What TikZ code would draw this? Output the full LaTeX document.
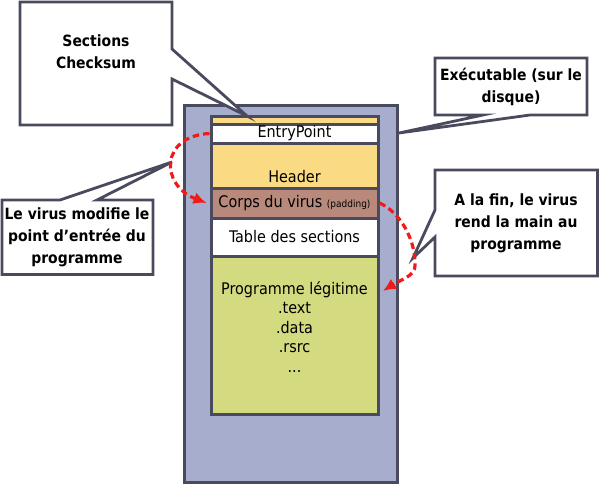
\documentclass[tikz,border=0pt]{standalone}
\usepackage{fontspec}
\setmainfont{DejaVu Sans Condensed}
\usetikzlibrary{arrows.meta}
\definecolor{framegray}{HTML}{4A4A5E}
\definecolor{diskblue}{HTML}{A7ADCC}
\definecolor{headeryellow}{HTML}{FADA82}
\definecolor{viruspink}{HTML}{B98A7B}
\definecolor{legitgreen}{HTML}{D4DA80}
\definecolor{jumpred}{HTML}{F01A1A}

\begin{document}
\begin{tikzpicture}[x=1pt, y=-1pt,
  block/.style={draw=framegray, line width=3pt, minimum width=167pt, inner sep=0pt, font=\fontsize{16}{19.5}\selectfont},
  bubble/.style={draw=framegray, line width=2.8pt, fill=white, line join=miter},
  bubbletext/.style={align=center, font=\fontsize{15.5}{22}\selectfont\bfseries},
  jumparrow/.style={draw=jumpred, line width=3.2pt, dash pattern=on 6.5pt off 4pt, -{Latex[length=13pt,width=12pt]}}]

\useasboundingbox (0,0) rectangle (600,485);

\node[draw=framegray, line width=3pt, fill=diskblue, minimum width=213.5pt, minimum height=376.5pt] (disk) at (290.75,293.75) {};

\node[block, fill=headeryellow, minimum height=8pt] (strip) at (294.5,120) {};
\node[block, fill=white, minimum height=19pt] (entry) at (294.5,133.5) {EntryPoint};
\node[block, fill=headeryellow, minimum height=45pt] (header) at (294.5,165.5) {};
\node[block, fill=viruspink, minimum height=30pt] (corps) at (294.5,203) {Corps du virus {\fontsize{10}{12}\selectfont(padding)}};
\node[block, fill=white, minimum height=38pt] (table) at (294.5,237) {Table des sections};
\node[block, fill=legitgreen, minimum height=158pt] (prog) at (294.5,335) {};
\node[font=\fontsize{16}{19.5}\selectfont] (headertext) at (294.5,177) {Header};
\node[align=center, font=\fontsize{16}{19.5}\selectfont] (progtext) at (294.5,327) {Programme légitime\\.text\\.data\\.rsrc\\...};

\draw[bubble] (20,2) -- (172,2) -- (172,49) -- (247,116) -- (172,79) -- (172,125) -- (20,125) -- cycle;
\node[bubbletext] (checksum) at (96,52) {Sections\\Checksum};

\draw[bubble] (435,58) -- (587,58) -- (587,115) -- (530,115) -- (399,133) -- (483,115) -- (435,115) -- cycle;
\node[bubbletext] (exelabel) at (511,87) {Exécutable (sur le\\disque)};

\draw[bubble] (435,170) -- (597.5,170) -- (597.5,276) -- (435,276) -- (435,237) -- (413,258) -- (435,210) -- cycle;
\node[bubbletext] (endlabel) at (516,223) {A la fin, le virus\\rend la main au\\programme};

\draw[bubble] (2,200) -- (60,200) -- (172,162) -- (97,200) -- (153,200) -- (153,274.5) -- (2,274.5) -- cycle;
\node[bubbletext] (entrylabel) at (77,237) {Le virus modifie le\\point d’entrée du\\programme};

\draw[jumparrow] (entry.west) .. controls (160,136) and (160,185) .. ([xshift=-3pt]corps.west);
\coordinate (progin) at (383,291);
\draw[jumparrow] (corps.east) .. controls (400,212) and (416,240) .. (415,266) .. controls (415,276) and (400,280) .. (progin);

\end{tikzpicture}
\end{document}
